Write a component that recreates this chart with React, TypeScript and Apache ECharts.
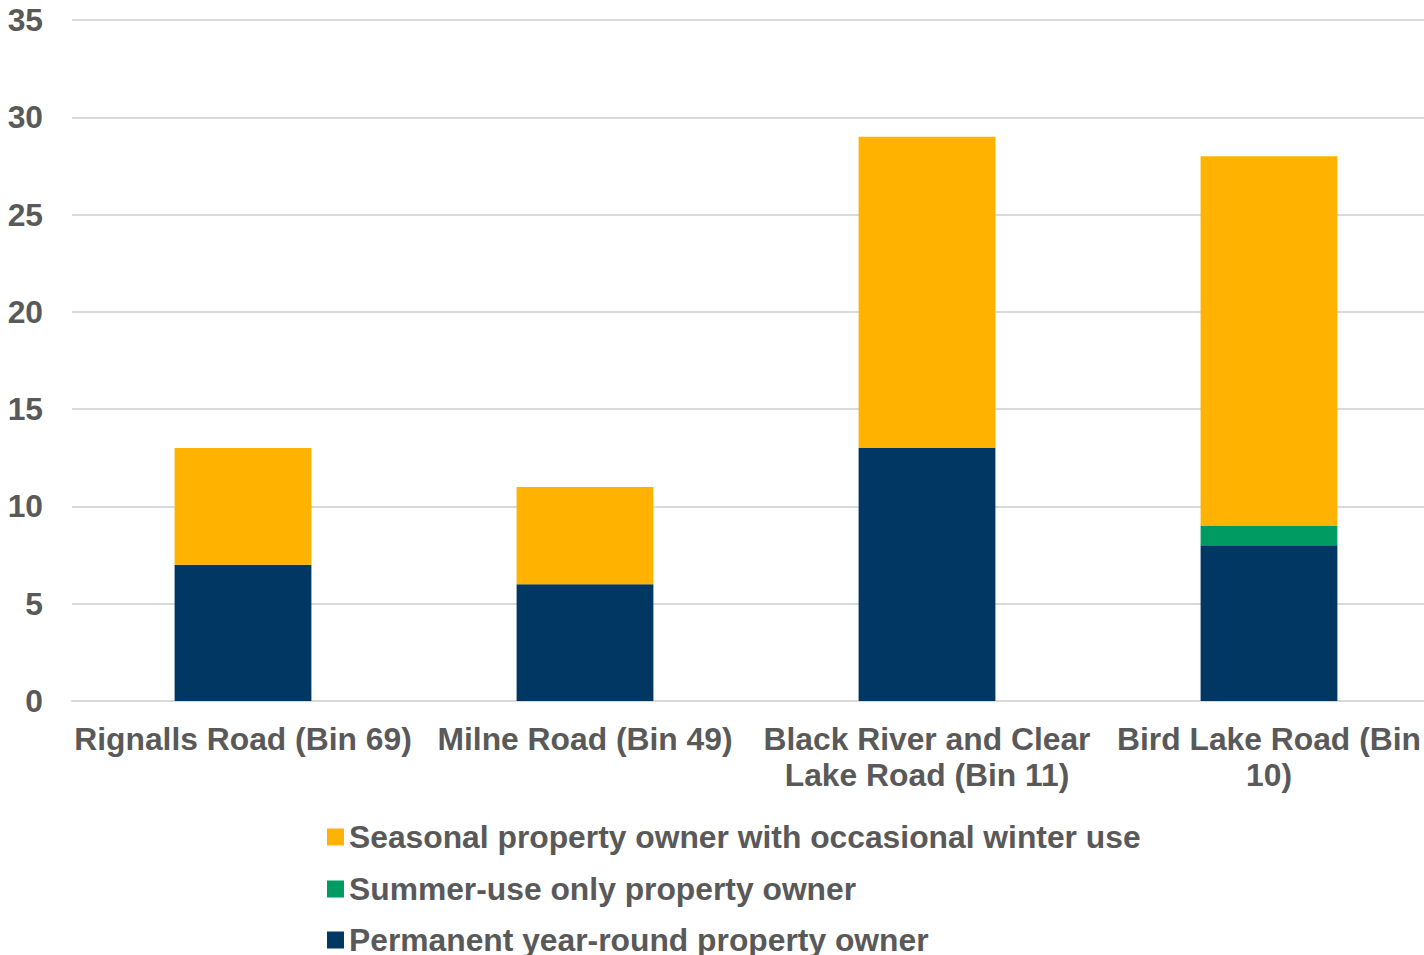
import React, { useEffect, useRef } from "react";
import * as echarts from "echarts";

const categories = [
  "Rignalls Road (Bin 69)",
  "Milne Road (Bin 49)",
  "Black River and Clear\nLake Road (Bin 11)",
  "Bird Lake Road (Bin\n10)",
];
const permanent = [7, 6, 13, 8];
const summer = [0, 0, 0, 1];
const seasonal = [6, 5, 16, 19];
const seriesNames = [
  "Seasonal property owner with occasional winter use",
  "Summer-use only property owner",
  "Permanent year-round property owner",
];

const TEXT = "#595959";
const FONT = "'Liberation Sans', Arial, sans-serif";
const FS = 31.8;
const legendTops = [821, 873, 924];

export default function App() {
  const ref = useRef<HTMLDivElement>(null);
  useEffect(() => {
    document.body.style.margin = "0";
    const chart = echarts.init(ref.current!, null, { renderer: "svg" });
    chart.setOption({
      animation: false,
      textStyle: { fontFamily: FONT },
      grid: {
        left: 72,
        top: 20,
        width: 1368,
        height: 681,
        containLabel: false,
        outerBoundsMode: "none",
      },
      xAxis: {
        type: "category",
        data: categories,
        axisLine: { lineStyle: { color: "#d9d9d9", width: 2 } },
        axisTick: { show: false },
        axisLabel: {
          interval: 0,
          color: TEXT,
          fontSize: FS,
          fontWeight: "bold",
          fontFamily: FONT,
          lineHeight: 36,
          margin: 20,
        },
      },
      yAxis: {
        type: "value",
        min: 0,
        max: 35,
        interval: 5,
        axisLine: { show: false },
        axisTick: { show: false },
        splitLine: { lineStyle: { color: "#d9d9d9", width: 2 } },
        axisLabel: {
          color: TEXT,
          fontSize: FS,
          fontWeight: "bold",
          fontFamily: FONT,
          margin: 29,
        },
      },
      legend: seriesNames.map((name, i) => ({
        orient: "vertical",
        left: 327,
        top: legendTops[i],
        padding: 0,
        itemWidth: 17,
        itemHeight: 17,
        icon: "rect",
        data: [name],
        textStyle: {
          color: TEXT,
          fontSize: FS,
          fontWeight: "bold",
          fontFamily: FONT,
          lineHeight: 30,
        },
      })),
      series: [
        {
          name: seriesNames[2],
          type: "bar",
          stack: "total",
          data: permanent,
          barWidth: "40%",
          itemStyle: { color: "#003763" },
        },
        {
          name: seriesNames[1],
          type: "bar",
          stack: "total",
          data: summer,
          itemStyle: { color: "#009A63" },
        },
        {
          name: seriesNames[0],
          type: "bar",
          stack: "total",
          data: seasonal,
          itemStyle: { color: "#FFB300" },
        },
      ],
    });
    return () => chart.dispose();
  }, []);
  return <div ref={ref} style={{ width: 1424, height: 955 }} />;
}
